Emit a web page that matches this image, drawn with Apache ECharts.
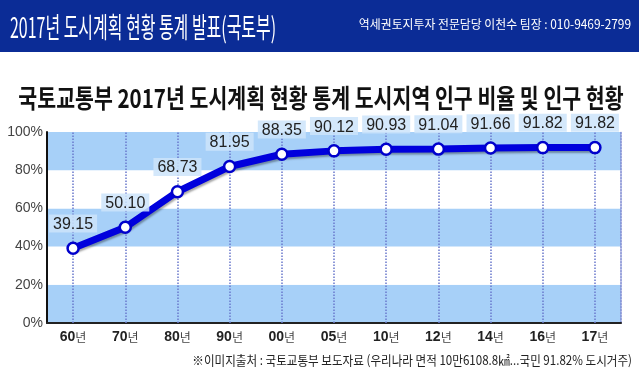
<!DOCTYPE html>
<html><head><meta charset="utf-8">
<script src="https://cdn.jsdelivr.net/npm/echarts@6/dist/echarts.min.js"></script>
<style>html,body{margin:0;padding:0;background:#fff}#c{width:639px;height:377px}</style>
</head><body><div id="c"></div>
<script>
const categories = ['60','70','80','90','00','05','10','12','14','16','17'];
const yearSuffix = '년';
const urbanRatio = [39.15, 50.10, 68.73, 81.95, 88.35, 90.12, 90.93, 91.04, 91.66, 91.82, 91.82];
const yTicks = [0, 20, 40, 60, 80, 100];
const bannerTitle = '2017년 도시계획 현황 통계 발표(국토부)';
const bannerInfo = '역세권토지투자 전문담당 이천수 팀장 : 010-9469-2799';
const chartTitle = '국토교통부 2017년 도시계획 현황 통계 도시지역 인구 비율 및 인구 현황';
const sourceNote = '※이미지출처 : 국토교통부 보도자료 (우리나라 면적 10만6108.8㎢...국민 91.82% 도시거주)';

const xLabels = categories.map(c => c + yearSuffix);
const chart = echarts.init(document.getElementById('c'));
const font = '"Liberation Sans", Arial, "Noto Sans CJK KR", sans-serif';
const cjk = '"Noto Sans CJK KR", sans-serif';
chart.setOption({
  animation: false,
  backgroundColor: '#ffffff',
  graphic: [
    {type: 'rect', left: 0, top: 0, z: -10, shape: {width: 639, height: 52}, style: {fill: '#0b2c96'}},
    {type: 'text', x: 10, y: 27, scaleX: 0.57, style: {text: bannerTitle, fill: '#ffffff', font: '400 28px ' + cjk, textVerticalAlign: 'middle'}},
    {type: 'text', x: 631, y: 24, scaleX: 0.95, style: {text: bannerInfo, fill: '#ffffff', font: '400 12.5px ' + cjk, textAlign: 'right', textVerticalAlign: 'middle'}},
    {type: 'text', x: 321, y: 98, scaleX: 0.79, style: {text: chartTitle, fill: '#111111', font: '700 26px ' + cjk, textAlign: 'center', textVerticalAlign: 'middle'}},
    {type: 'text', x: 632, y: 360, scaleX: 0.89, style: {text: sourceNote, fill: '#222222', font: '400 13px ' + cjk, textAlign: 'right', textVerticalAlign: 'middle'}}
  ],
  grid: {left: 47, right: 18, top: 132, bottom: 54},
  xAxis: {
    type: 'category', data: xLabels, boundaryGap: true,
    axisLine: {lineStyle: {color: '#222', width: 2}},
    axisTick: {show: false},
    axisLabel: {
      margin: 7, interval: 0,
      formatter: v => '{n|' + v.replace(yearSuffix, '') + '}{s|' + yearSuffix + '}',
      rich: {
        n: {fontFamily: font, fontWeight: 'bold', fontSize: 14, color: '#222'},
        s: {fontFamily: cjk, fontSize: 12, color: '#444'}
      }
    },
    splitLine: {show: false}
  },
  yAxis: [{
    type: 'value', min: yTicks[0], max: yTicks[yTicks.length - 1], interval: 20,
    axisLine: {show: true, lineStyle: {color: '#111', width: 2}},
    axisTick: {show: false},
    axisLabel: {formatter: '{value}%', fontFamily: font, fontSize: 14, color: '#444', margin: 4},
    splitLine: {show: false},
    splitArea: {show: true, areaStyle: {color: ['#a7d0f8', '#ffffff']}}
  }, {
    type: 'value', min: 0, max: 100, interval: 20, position: 'right',
    axisLine: {show: true, lineStyle: {color: '#7b86d0', type: 'dotted', width: 1.5}},
    axisTick: {show: false}, axisLabel: {show: false}, splitLine: {show: false}
  }],
  series: [{
    type: 'line', data: urbanRatio, yAxisIndex: 0,
    lineStyle: {color: '#0000dd', width: 7, shadowColor: 'rgba(0,0,0,0.35)', shadowOffsetX: 1, shadowOffsetY: 2, shadowBlur: 2},
    symbol: 'circle', symbolSize: 11,
    itemStyle: {color: '#ffffff', borderColor: '#0000cc', borderWidth: 2.5},
    z: 5,
    label: {
      show: true, position: 'top', distance: 9,
      formatter: p => p.value.toFixed(2),
      fontFamily: font, fontSize: 16, color: '#222',
      backgroundColor: 'rgba(205,228,250,0.85)', padding: [2, 4, 0, 4]
    },
    markLine: {
      silent: true, symbol: 'none', label: {show: false},
      lineStyle: {color: '#6a78cc', type: 'dotted', width: 1.5},
      data: xLabels.map(c => ({xAxis: c}))
    }
  }]
});
</script></body></html>
